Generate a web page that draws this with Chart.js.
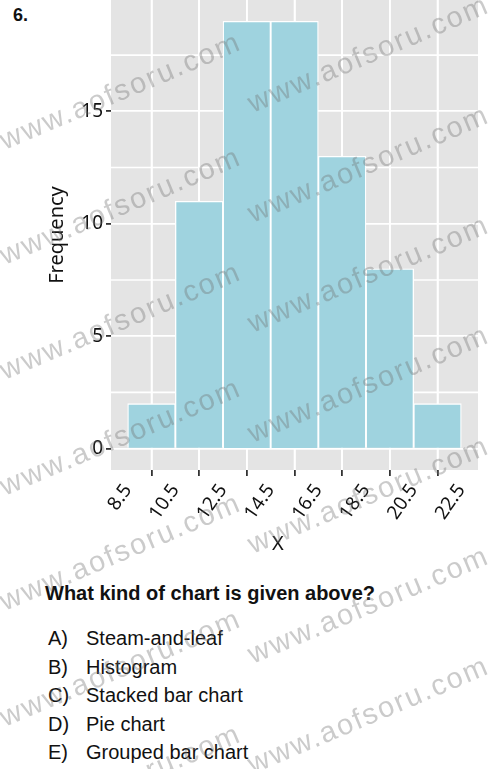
<!DOCTYPE html>
<html>
<head>
<meta charset="utf-8">
<script src="https://cdn.jsdelivr.net/npm/chart.js@4.4.1/dist/chart.umd.min.js"></script>
<style>
  html, body { margin: 0; padding: 0; background: #fff; }
  body { width: 500px; height: 769px; position: relative; overflow: hidden; font-family: "Liberation Sans", Arial, sans-serif; color: #111; }
  #wrap { position: absolute; left: 0; top: 0; width: 500px; height: 560px; }
  .abs { position: absolute; white-space: nowrap; line-height: 1; }
  .q { font-weight: bold; font-size: 20px; }
  .opt { font-size: 20px; }
  .wm { position: absolute; white-space: nowrap; font-family: "Liberation Sans", Arial, sans-serif; font-size: 29px; letter-spacing: 2px; color: rgba(110, 110, 110, 0.36); transform-origin: 0 24.5px; transform: rotate(-23deg); line-height: 29px; pointer-events: none; }
</style>
</head>
<body>
<div class="abs q" style="left:13px; top:6px; font-size:18px;">6.</div>
<div id="wrap"><canvas id="chart"></canvas></div>
<div class="abs" style="left:272px; top:533px; font-family:'Noto Sans', sans-serif; font-size:20px;">X</div>
<div class="abs q" style="left:45px; top:583px;">What kind of chart is given above?</div>
<div id="opts"></div>
<div id="marks"></div>
<script>
// histogram data
const binEdges = [8.5, 10.5, 12.5, 14.5, 16.5, 18.5, 20.5, 22.5];
const counts   = [2, 11, 19, 19, 13, 8, 2];
const yTicks   = [0, 5, 10, 15];
const yMinor   = [2.5, 7.5, 12.5, 17.5];
const xMinor   = [9.5, 11.5, 13.5, 15.5, 17.5, 19.5, 21.5];

const options = [
  ['A)', 'Steam-and-leaf'],
  ['B)', 'Histogram'],
  ['C)', 'Stacked bar chart'],
  ['D)', 'Pie chart'],
  ['E)', 'Grouped bar chart'],
];

// answer options
const optBox = document.getElementById('opts');
options.forEach(([k, t], i) => {
  const top = 628 + i * 28.5;
  optBox.insertAdjacentHTML('beforeend',
    `<div class="abs opt" style="left:48px; top:${top}px;">${k}</div>` +
    `<div class="abs opt" style="left:86px; top:${top}px;">${t}</div>`);
});

// watermark (two columns)
const marks = document.getElementById('marks');
for (let i = 0; i < 7; i++) {
  marks.insertAdjacentHTML('beforeend', `<div class="wm" style="left:5px; top:${150 + i * 115.4 - 24.5}px;">www.aofsoru.com</div>`);
  marks.insertAdjacentHTML('beforeend', `<div class="wm" style="left:253px; top:${113 + i * 110.3 - 24.5}px;">www.aofsoru.com</div>`);
}

const panelBg = {
  id: 'panelBg',
  beforeDraw(chart) {
    const { ctx, chartArea: a, scales } = chart;
    ctx.save();
    ctx.fillStyle = '#e4e4e4';
    ctx.fillRect(a.left, a.top, a.right - a.left, a.bottom - a.top);
    ctx.strokeStyle = '#ffffff';
    ctx.lineWidth = 1.6;
    xMinor.forEach(v => {
      const px = scales.x.getPixelForValue(v);
      ctx.beginPath(); ctx.moveTo(px, a.top); ctx.lineTo(px, a.bottom); ctx.stroke();
    });
    yMinor.forEach(v => {
      const py = scales.y.getPixelForValue(v);
      ctx.beginPath(); ctx.moveTo(a.left, py); ctx.lineTo(a.right, py); ctx.stroke();
    });
    ctx.restore();
  },
};

new Chart(document.getElementById('chart'), {
  type: 'bar',
  data: {
    datasets: [{
      data: counts.map((c, i) => ({ x: (binEdges[i] + binEdges[i + 1]) / 2, y: c })),
      backgroundColor: '#9fd3df',
      borderColor: '#ffffff',
      borderWidth: 1.3,
      barPercentage: 1,
      categoryPercentage: 1,
    }],
  },
  options: {
    responsive: true,
    maintainAspectRatio: false,
    animation: false,
    layout: { padding: { left: 0, right: 22, top: 0, bottom: 0 } },
    plugins: { legend: { display: false }, tooltip: { enabled: false } },
    scales: {
      x: {
        type: 'linear',
        min: 7.8,
        max: 23.2,
        offset: false,
        afterBuildTicks: s => { s.ticks = binEdges.map(v => ({ value: v })); },
        afterFit: s => { s.height = 90; s.paddingLeft = 0; s.paddingRight = 0; },
        border: { display: false },
        grid: { color: '#ffffff', lineWidth: 1.8, tickLength: 6, tickColor: '#333' },
        ticks: {
          autoSkip: false, minRotation: 55, maxRotation: 55, padding: 10,
          color: '#111', font: { family: 'Noto Sans', size: 19, lineHeight: 0.1 },
          callback: v => String(v),
        },
      },
      y: {
        min: -0.95,
        max: 19.95,
        afterBuildTicks: s => { s.ticks = yTicks.map(v => ({ value: v })); },
        afterFit: s => { s.width = 111; s.paddingTop = 0; s.paddingBottom = 0; },
        border: { display: false },
        grid: { color: '#ffffff', lineWidth: 1.8, tickLength: 5, tickColor: '#333' },
        ticks: { padding: 3, color: '#111', font: { family: 'Noto Sans', size: 19 } },
        title: {
          display: true, text: 'Frequency', color: '#111',
          font: { family: 'Noto Sans', size: 20 }, padding: { top: 45, bottom: 0 },
        },
      },
    },
  },
  plugins: [panelBg],
});
</script>
</body>
</html>
